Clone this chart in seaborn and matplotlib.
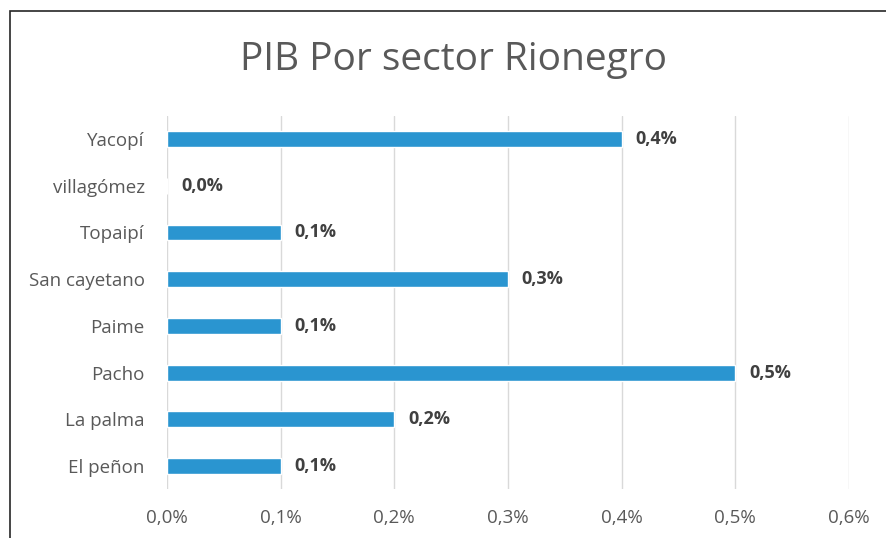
import numpy as np
import pandas as pd
import matplotlib.pyplot as plt
import seaborn as sns
from matplotlib.ticker import FuncFormatter
from matplotlib.patches import Rectangle

# datos (porcentaje del PIB)
municipios = ['Yacopí', 'villagómez', 'Topaipí', 'San cayetano', 'Paime',
              'Pacho', 'La palma', 'El peñon']
pib = [0.4, 0.0, 0.1, 0.3, 0.1, 0.5, 0.2, 0.1]
ticks_x = [0.0, 0.1, 0.2, 0.3, 0.4, 0.5, 0.6]

df = pd.DataFrame({'municipio': municipios, 'pib': pib})

sns.set_style('white')
plt.rcParams['font.family'] = ['Open Sans', 'DejaVu Sans']

fig = plt.figure(figsize=(8.86, 5.38), dpi=100)
ax = fig.add_axes([0.1885, 0.0903, 0.7695, 0.6947])

sns.barplot(data=df, x='pib', y='municipio', orient='h', color='#2A95D0',
            saturation=1, width=0.34, ax=ax)

ax.set_xlim(0, 0.6)
ax.set_xticks(ticks_x)
ax.xaxis.set_major_formatter(FuncFormatter(lambda v, p: f'{v:.1f}%'.replace('.', ',')))
ax.grid(axis='x', color='#D9D9D9', linewidth=1)
ax.set_axisbelow(True)
for s in ax.spines.values():
    s.set_visible(False)
ax.tick_params(axis='both', length=0, colors='#595959', labelsize=13.5)
ax.tick_params(axis='x', pad=14)
ax.tick_params(axis='y', pad=16)
ax.set_xlabel('')
ax.set_ylabel('')

for i, v in enumerate(pib):
    ax.annotate(f'{v:.1f}%'.replace('.', ','), (v, i), xytext=(10, 0),
                textcoords='offset points', va='center', ha='left',
                fontsize=13, fontweight='bold', color='#404040')

fig.text(0.512, 0.888, 'PIB Por sector Rionegro', ha='center', va='center',
         fontsize=28, color='#595959')

# marco del gráfico
fig.patches.append(Rectangle((10 / 886, -0.05), 1.0, 1 - 11 / 538 + 0.05,
                             transform=fig.transFigure, fill=False,
                             edgecolor='#262626', linewidth=1.2))

fig.savefig('out.png', dpi=100)
